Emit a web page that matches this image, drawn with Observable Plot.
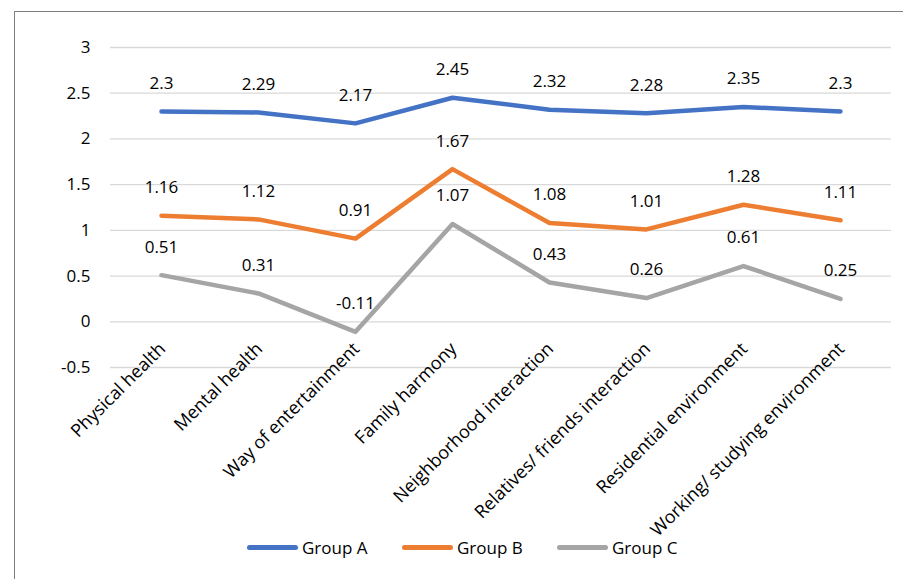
<!DOCTYPE html>
<html>
<head>
<meta charset="utf-8">
<script src="https://cdn.jsdelivr.net/npm/d3@7"></script>
<script src="https://cdn.jsdelivr.net/npm/@observablehq/plot@0.6"></script>
<style>
  html, body { margin: 0; padding: 0; background: #fff; overflow: hidden; }
  body { width: 903px; height: 579px; position: relative; font-family: "Open Sans", sans-serif; }
  #frame { position: absolute; left: 14px; top: 11px; width: 1000px; height: 700px;
           border-left: 1.5px solid #808080; border-top: 1.5px solid #808080; }
  #chart { position: absolute; left: 0; top: 0; }
  #legend { position: absolute; left: 247px; top: 536px; display: flex; font-size: 17px; color: #000; }
  .item { display: flex; align-items: center; width: 155px; }
  .swatch { width: 51px; height: 5px; border-radius: 3px; margin-right: 4px; }
</style>
</head>
<body>
<div id="frame"></div>
<div id="chart"></div>
<div id="legend"></div>
<script>
// Categories along the horizontal axis
const categories = [
  "Physical health",
  "Mental health",
  "Way of entertainment",
  "Family harmony",
  "Neighborhood interaction",
  "Relatives/ friends interaction",
  "Residential environment",
  "Working/ studying environment"
];

// Series values, one per category
const groupA = [2.3, 2.29, 2.17, 2.45, 2.32, 2.28, 2.35, 2.3];
const groupB = [1.16, 1.12, 0.91, 1.67, 1.08, 1.01, 1.28, 1.11];
const groupC = [0.51, 0.31, -0.11, 1.07, 0.43, 0.26, 0.61, 0.25];

const seriesNames = ["Group A", "Group B", "Group C"];
const seriesColors = ["#4472C4", "#ED7D31", "#A5A5A5"];
const yTicks = [-0.5, 0, 0.5, 1, 1.5, 2, 2.5, 3];

// Long-format table for the line and label marks
const seriesValues = [groupA, groupB, groupC];
const data = seriesNames.flatMap((name, i) =>
  categories.map((c, j) => ({ series: name, category: c, value: seriesValues[i][j] }))
);

const chart = Plot.plot({
  width: 903,
  height: 530,
  marginLeft: 110,
  marginRight: 12,
  marginTop: 47,
  marginBottom: 163,
  style: { fontFamily: "'Open Sans', sans-serif", fontSize: "17px", color: "#000", background: "transparent", overflow: "visible" },
  x: { type: "point", domain: categories, padding: 0.5, axis: null },
  y: { domain: [-0.5, 3], axis: null },
  color: { domain: seriesNames, range: seriesColors },
  marks: [
    Plot.ruleY(yTicks, { stroke: "#d9d9d9", strokeWidth: 1.3 }),
    Plot.axisY({ ticks: yTicks, tickSize: 0, tickPadding: 20, label: null, tickFormat: d => String(d), fontSize: 17 }),
    // category labels hang from the zero line, as the category axis crosses there
    Plot.text(categories, {
      x: d => d, y: () => 0, text: d => d, rotate: -45, textAnchor: "end",
      dx: 1, dy: 24, fontSize: 18, fill: "#000"
    }),
    Plot.line(data, {
      x: "category", y: "value", z: "series", stroke: "series",
      strokeWidth: 4.5, strokeLinecap: "round", strokeLinejoin: "round"
    }),
    Plot.text(data, { x: "category", y: "value", text: d => String(d.value), dy: -28, fontSize: 17, fill: "#000" })
  ]
});
document.getElementById("chart").appendChild(chart);

// Legend below the plot
const legend = document.getElementById("legend");
seriesNames.forEach((name, i) => {
  const item = document.createElement("div");
  item.className = "item";
  const sw = document.createElement("span");
  sw.className = "swatch";
  sw.style.background = seriesColors[i];
  const label = document.createElement("span");
  label.textContent = name;
  item.appendChild(sw);
  item.appendChild(label);
  legend.appendChild(item);
});
</script>
</body>
</html>
